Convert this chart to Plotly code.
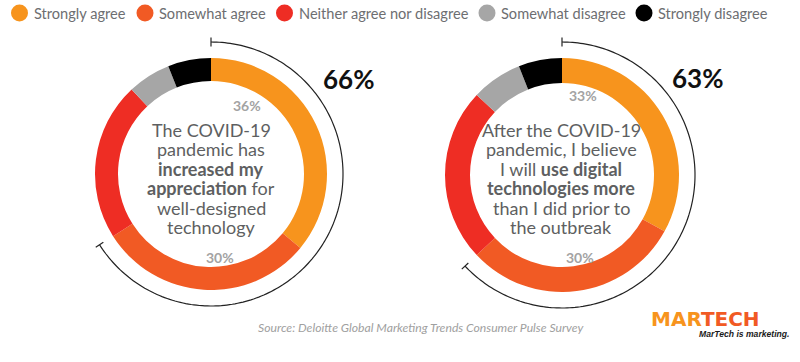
import numpy as np
import plotly.graph_objects as go

# ---- data ----
categories = ["Strongly agree", "Somewhat agree", "Neither agree nor disagree",
              "Somewhat disagree", "Strongly disagree"]
colors = ["#F7941D", "#F15A24", "#EE2D24", "#A6A6A6", "#000000"]
left_values = [36, 30, 22, 6, 6]
right_values = [33, 30, 24, 7, 6]
left_total_label = "66%"
right_total_label = "63%"
left_lines = ["The COVID-19", "pandemic has", "<b>increased my</b>",
              "<b>appreciation</b> for", "well-designed", "technology"]
right_lines = ["After the COVID-19", "pandemic, I believe", "I will <b>use digital</b>",
               "<b>technologies more</b>", "than I did prior to", "the outbreak"]
source_text = "Source: Deloitte Global Marketing Trends Consumer Pulse Survey"

W, H = 800, 362
fig = go.Figure()

# donut geometry (pixels)
charts = [
    dict(values=left_values, cx=211, cy=174, inner=93, thick=23, arc_r=132,
         sub="polar"),
    dict(values=right_values, cx=562, cy=175, inner=92, thick=25, arc_r=133,
         sub="polar2"),
]
HALF = 140

for ch in charts:
    vals = np.array(ch["values"], dtype=float)
    cum = np.cumsum(vals) - vals
    theta = (cum + vals / 2) * 3.6
    width = vals * 3.6
    fig.add_trace(go.Barpolar(
        theta=theta, r=[ch["thick"]] * len(vals), base=[ch["inner"]] * len(vals),
        width=width, marker=dict(color=colors, line=dict(width=0)),
        subplot=ch["sub"], showlegend=False, hoverinfo="skip"))
    agree = vals[0] + vals[1]
    t_arc = np.linspace(0, agree * 3.6, 200)
    fig.add_trace(go.Scatterpolar(
        theta=t_arc, r=[ch["arc_r"]] * len(t_arc), mode="lines",
        line=dict(color="#222222", width=1.2), subplot=ch["sub"],
        showlegend=False, hoverinfo="skip"))
    for tt in [0, agree * 3.6]:
        fig.add_trace(go.Scatterpolar(
            theta=[tt, tt], r=[ch["arc_r"] - 4.5, ch["arc_r"] + 4.5], mode="lines",
            line=dict(color="#222222", width=1.2), subplot=ch["sub"],
            showlegend=False, hoverinfo="skip"))

polar_common = dict(
    bgcolor="rgba(0,0,0,0)",
    radialaxis=dict(range=[0, HALF], visible=False, showgrid=False),
    angularaxis=dict(rotation=90, direction="clockwise", visible=False,
                     showgrid=False, showline=False, ticks=""),
)
for ch in charts:
    dom = dict(x=[(ch["cx"] - HALF) / W, (ch["cx"] + HALF) / W],
               y=[(H - ch["cy"] - HALF) / H, (H - ch["cy"] + HALF) / H])
    fig.update_layout(**{ch["sub"]: dict(domain=dom, **polar_common)})

# legend (manual)
leg_x = [19.5, 145, 284.5, 487, 644]
leg_y = 13
fig.add_trace(go.Scatter(
    x=leg_x, y=[leg_y] * 5, mode="markers",
    marker=dict(size=17, color=colors, line=dict(width=0)),
    showlegend=False, hoverinfo="skip", xaxis="x", yaxis="y"))

ann = []
for x, lab in zip(leg_x, categories):
    ann.append(dict(x=x + 12, y=leg_y, text=lab, xanchor="left", yanchor="middle",
                    showarrow=False, font=dict(family="Lato", size=14.6, color="#6D6E71")))

# center texts
line_ys = [129.5, 149, 168.5, 188, 207.5, 227]
for cx, lines in [(211, left_lines), (561, right_lines)]:
    for y, t in zip(line_ys, lines):
        ann.append(dict(x=cx, y=y, text=t, xanchor="center", yanchor="middle",
                        showarrow=False,
                        font=dict(family="Lato", size=18, color="#5E5F61")))

# segment percentage labels
pct_labels = [(247, 105, f"{left_values[0]}%"), (220, 257, f"{left_values[1]}%"),
              (583, 95, f"{right_values[0]}%"), (580, 257, f"{right_values[1]}%")]
for x, y, t in pct_labels:
    ann.append(dict(x=x, y=y, text=f"<b>{t}</b>", xanchor="center", yanchor="middle",
                    showarrow=False, font=dict(family="Lato", size=14, color="#A3A3A3")))

# totals
for x, y, t in [(348, 79, left_total_label), (697, 78, right_total_label)]:
    ann.append(dict(x=x, y=y, text=f"<b>{t}</b>", xanchor="center", yanchor="middle",
                    showarrow=False, font=dict(family="Lato", size=26, color="#111111")))

# source
ann.append(dict(x=421, y=327, text=f"<i>{source_text}</i>", xanchor="center",
                yanchor="middle", showarrow=False,
                font=dict(family="Lato", size=12.2, color="#A0A0A0")))

# logo
ann.append(dict(x=705, y=319, xanchor="center", yanchor="middle", showarrow=False,
                text="<b><span style='color:#F7941D'>MAR</span><span style='color:#F15A24'>TECH</span></b>",
                font=dict(family="DejaVu Sans", size=20, color="#F7941D")))
ann.append(dict(x=744, y=334, xanchor="center", yanchor="middle", showarrow=False,
                text="<b><i>MarTech is marketing.</i></b>",
                font=dict(family="Liberation Sans", size=8.6, color="#1A1A1A")))

fig.update_layout(
    width=W, height=H, margin=dict(l=0, r=0, t=0, b=0),
    paper_bgcolor="white", plot_bgcolor="rgba(0,0,0,0)",
    xaxis=dict(range=[0, W], domain=[0, 1], visible=False, fixedrange=True),
    yaxis=dict(range=[H, 0], domain=[0, 1], visible=False, fixedrange=True),
    annotations=[dict(a, xref="x", yref="y") for a in ann],
    showlegend=False,
)

fig.write_html(
    "out.html",
    config={"displayModeBar": False, "staticPlot": True},
    post_script="document.body.style.margin='0px';document.body.style.padding='0px';"
                "document.body.style.overflow='hidden';",
)
